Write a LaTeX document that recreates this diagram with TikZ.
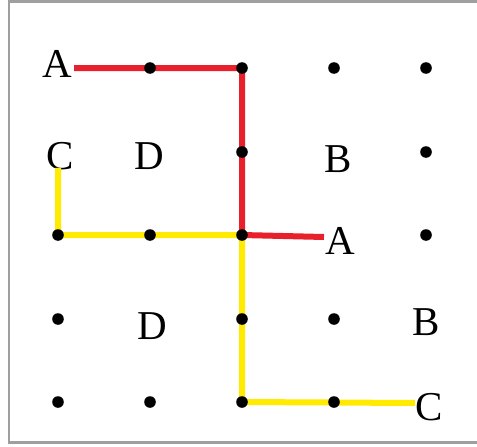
\documentclass[tikz,border=0pt]{standalone}
\usepackage{fontspec}
\setmainfont{Liberation Serif}
\usetikzlibrary{positioning}

\definecolor{pathred}{HTML}{E8202C}
\definecolor{pathyellow}{HTML}{FFEA00}

\begin{document}
\begin{tikzpicture}[
    x=1pt, y=-1pt,
    lbl/.style={inner sep=0pt, font=\fontsize{41}{48}\selectfont},
    dot/.style={fill=black},
    redline/.style={draw=pathred, line width=6pt},
    yelline/.style={draw=pathyellow, line width=6pt},
    frame/.style={draw=gray!75, line width=2.2pt}
]
\useasboundingbox (0,0) rectangle (477,447);
\draw[frame] (9,1.5) rectangle (490,442.5);

% grid points
\foreach \i/\x in {1/58,2/150,3/242,4/334,5/426}
  \foreach \j/\y in {1/68,2/152,3/235,4/319,5/402}
    \coordinate (g-\i-\j) at (\x,\y);

% letters
\node[lbl] (A1) at (57,63.5) {A};
\node[lbl] (C1) at (60,156) {C};
\node[lbl] (D1) at (149,156) {D};
\node[lbl] (B1) at (338,159) {B};
\node[lbl] (A2) at (340,241) {A};
\node[lbl] (D2) at (152,326) {D};
\node[lbl] (B2) at (426,322) {B};
\node[lbl] (C2) at (429,407.5) {C};

% paths
\draw[redline] ([xshift=2pt]A1.east |- g-3-1) -- (g-3-1) -- (g-3-3)
  -- ([xshift=-1pt,yshift=-2pt]A2.west |- g-3-3);
\draw[yelline] ([yshift=2pt]C1.south -| g-1-3) -- (g-1-3) -- (g-3-3) -- (g-3-5)
  -- ([yshift=-1pt]C2.west |- g-3-5);

% dots
\foreach \p in {2-1,3-1,4-1,5-1,3-2,5-2,1-3,2-3,3-3,5-3,1-4,3-4,4-4,1-5,2-5,3-5,4-5}
  \fill[dot] (g-\p) circle (5.8pt);
\end{tikzpicture}
\end{document}
